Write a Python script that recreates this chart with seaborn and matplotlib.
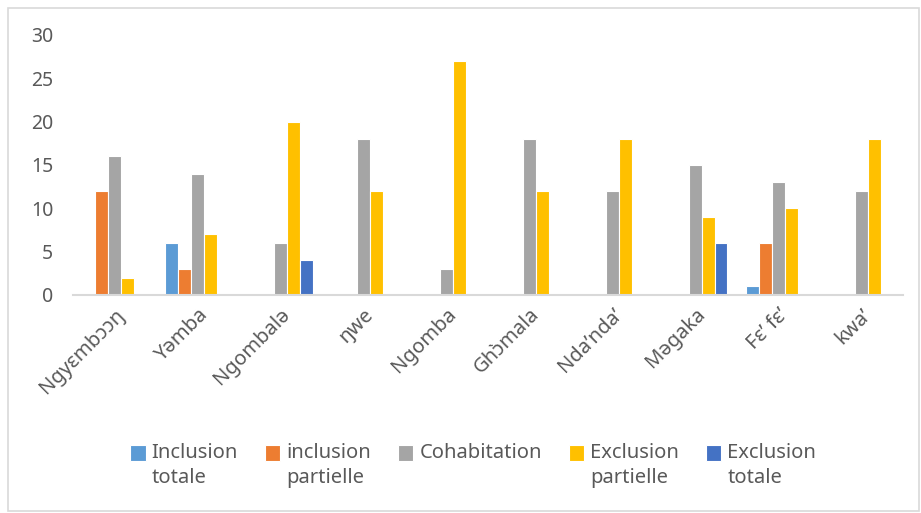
import matplotlib
matplotlib.use("Agg")
import matplotlib.pyplot as plt
import seaborn as sns
import pandas as pd
from matplotlib.patches import Rectangle
from matplotlib.legend_handler import HandlerPatch

langues = ["Ngyɛmbɔɔŋ", "Yəmba", "Ngombalə", "ŋwe", "Ngomba",
           "Ghɔ̀mala", "Nda’ndaʼ", "Məgaka", "Fɛʼ fɛʼ", "kwaʼ"]
series = ["Inclusion\ntotale", "inclusion\npartielle", "Cohabitation\n ",
          "Exclusion\npartielle", "Exclusion\ntotale"]
inclusion_totale = [0, 6, 0, 0, 0, 0, 0, 0, 1, 0]
inclusion_partielle = [12, 3, 0, 0, 0, 0, 0, 0, 6, 0]
cohabitation = [16, 14, 6, 18, 3, 18, 12, 15, 13, 12]
exclusion_partielle = [2, 7, 20, 12, 27, 12, 18, 9, 10, 18]
exclusion_totale = [0, 0, 4, 0, 0, 0, 0, 6, 0, 0]
couleurs = ["#5B9BD5", "#ED7D31", "#A5A5A5", "#FFC000", "#4472C4"]

valeurs = [inclusion_totale, inclusion_partielle, cohabitation,
           exclusion_partielle, exclusion_totale]
rows = []
for s, vals in zip(series, valeurs):
    for lang, v in zip(langues, vals):
        rows.append({"langue": lang, "serie": s, "valeur": v})
df = pd.DataFrame(rows)

sns.set_theme(style="white")
plt.rcParams["font.family"] = ["Noto Sans", "DejaVu Sans"]
texte = "#595959"
interligne = 1.36

fig = plt.figure(figsize=(9.21, 5.13), dpi=100)
ax = fig.add_axes([0.079, 0.425, 0.901, 0.507])

sns.barplot(data=df, x="langue", y="valeur", hue="serie", order=langues,
            hue_order=series, palette=couleurs, saturation=1, width=0.78,
            edgecolor="white", linewidth=0.8, ax=ax)

ax.set_ylim(0, 30)
ax.set_yticks(range(0, 31, 5))
ax.set_xlim(-0.5, len(langues) - 0.5)
ax.set_xlabel("")
ax.set_ylabel("")
for side in ["left", "right", "top"]:
    ax.spines[side].set_visible(False)
ax.spines["bottom"].set_color("#D9D9D9")
ax.spines["bottom"].set_linewidth(1.5)
ax.tick_params(axis="both", length=0, colors=texte)
ax.tick_params(axis="y", pad=14, labelsize=14)
ax.tick_params(axis="x", pad=7, labelsize=14.5)
for lab in ax.get_xticklabels():
    lab.set_rotation(45)
    lab.set_ha("right")
    lab.set_rotation_mode("anchor")


def carre_haut(legend, orig_handle, xdescent, ydescent, width, height, fontsize):
    # square key level with the first line of a two-line label
    decalage = 0.5 * interligne * 0.99 * fontsize - 0.05 * fontsize
    return Rectangle((-xdescent, -ydescent + decalage), width, width)


ax.get_legend().remove()
handles, labels = ax.get_legend_handles_labels()
leg = fig.legend(handles, labels, loc="center", bbox_to_anchor=(0.514, 0.093),
                 ncol=5, frameon=False, fontsize=14.5, handlelength=0.75,
                 handleheight=0.75, handletextpad=0.3, columnspacing=1.35,
                 handler_map={h: HandlerPatch(patch_func=carre_haut)
                              for h in handles})
for t in leg.get_texts():
    t.set_color(texte)
    t.set_linespacing(interligne)

fig.patches.append(Rectangle((8 / 921, 2 / 513), 911 / 921, 503 / 513,
                             transform=fig.transFigure, fill=False,
                             edgecolor="#D9D9D9", linewidth=1.2))

fig.savefig("out.png", dpi=100)
